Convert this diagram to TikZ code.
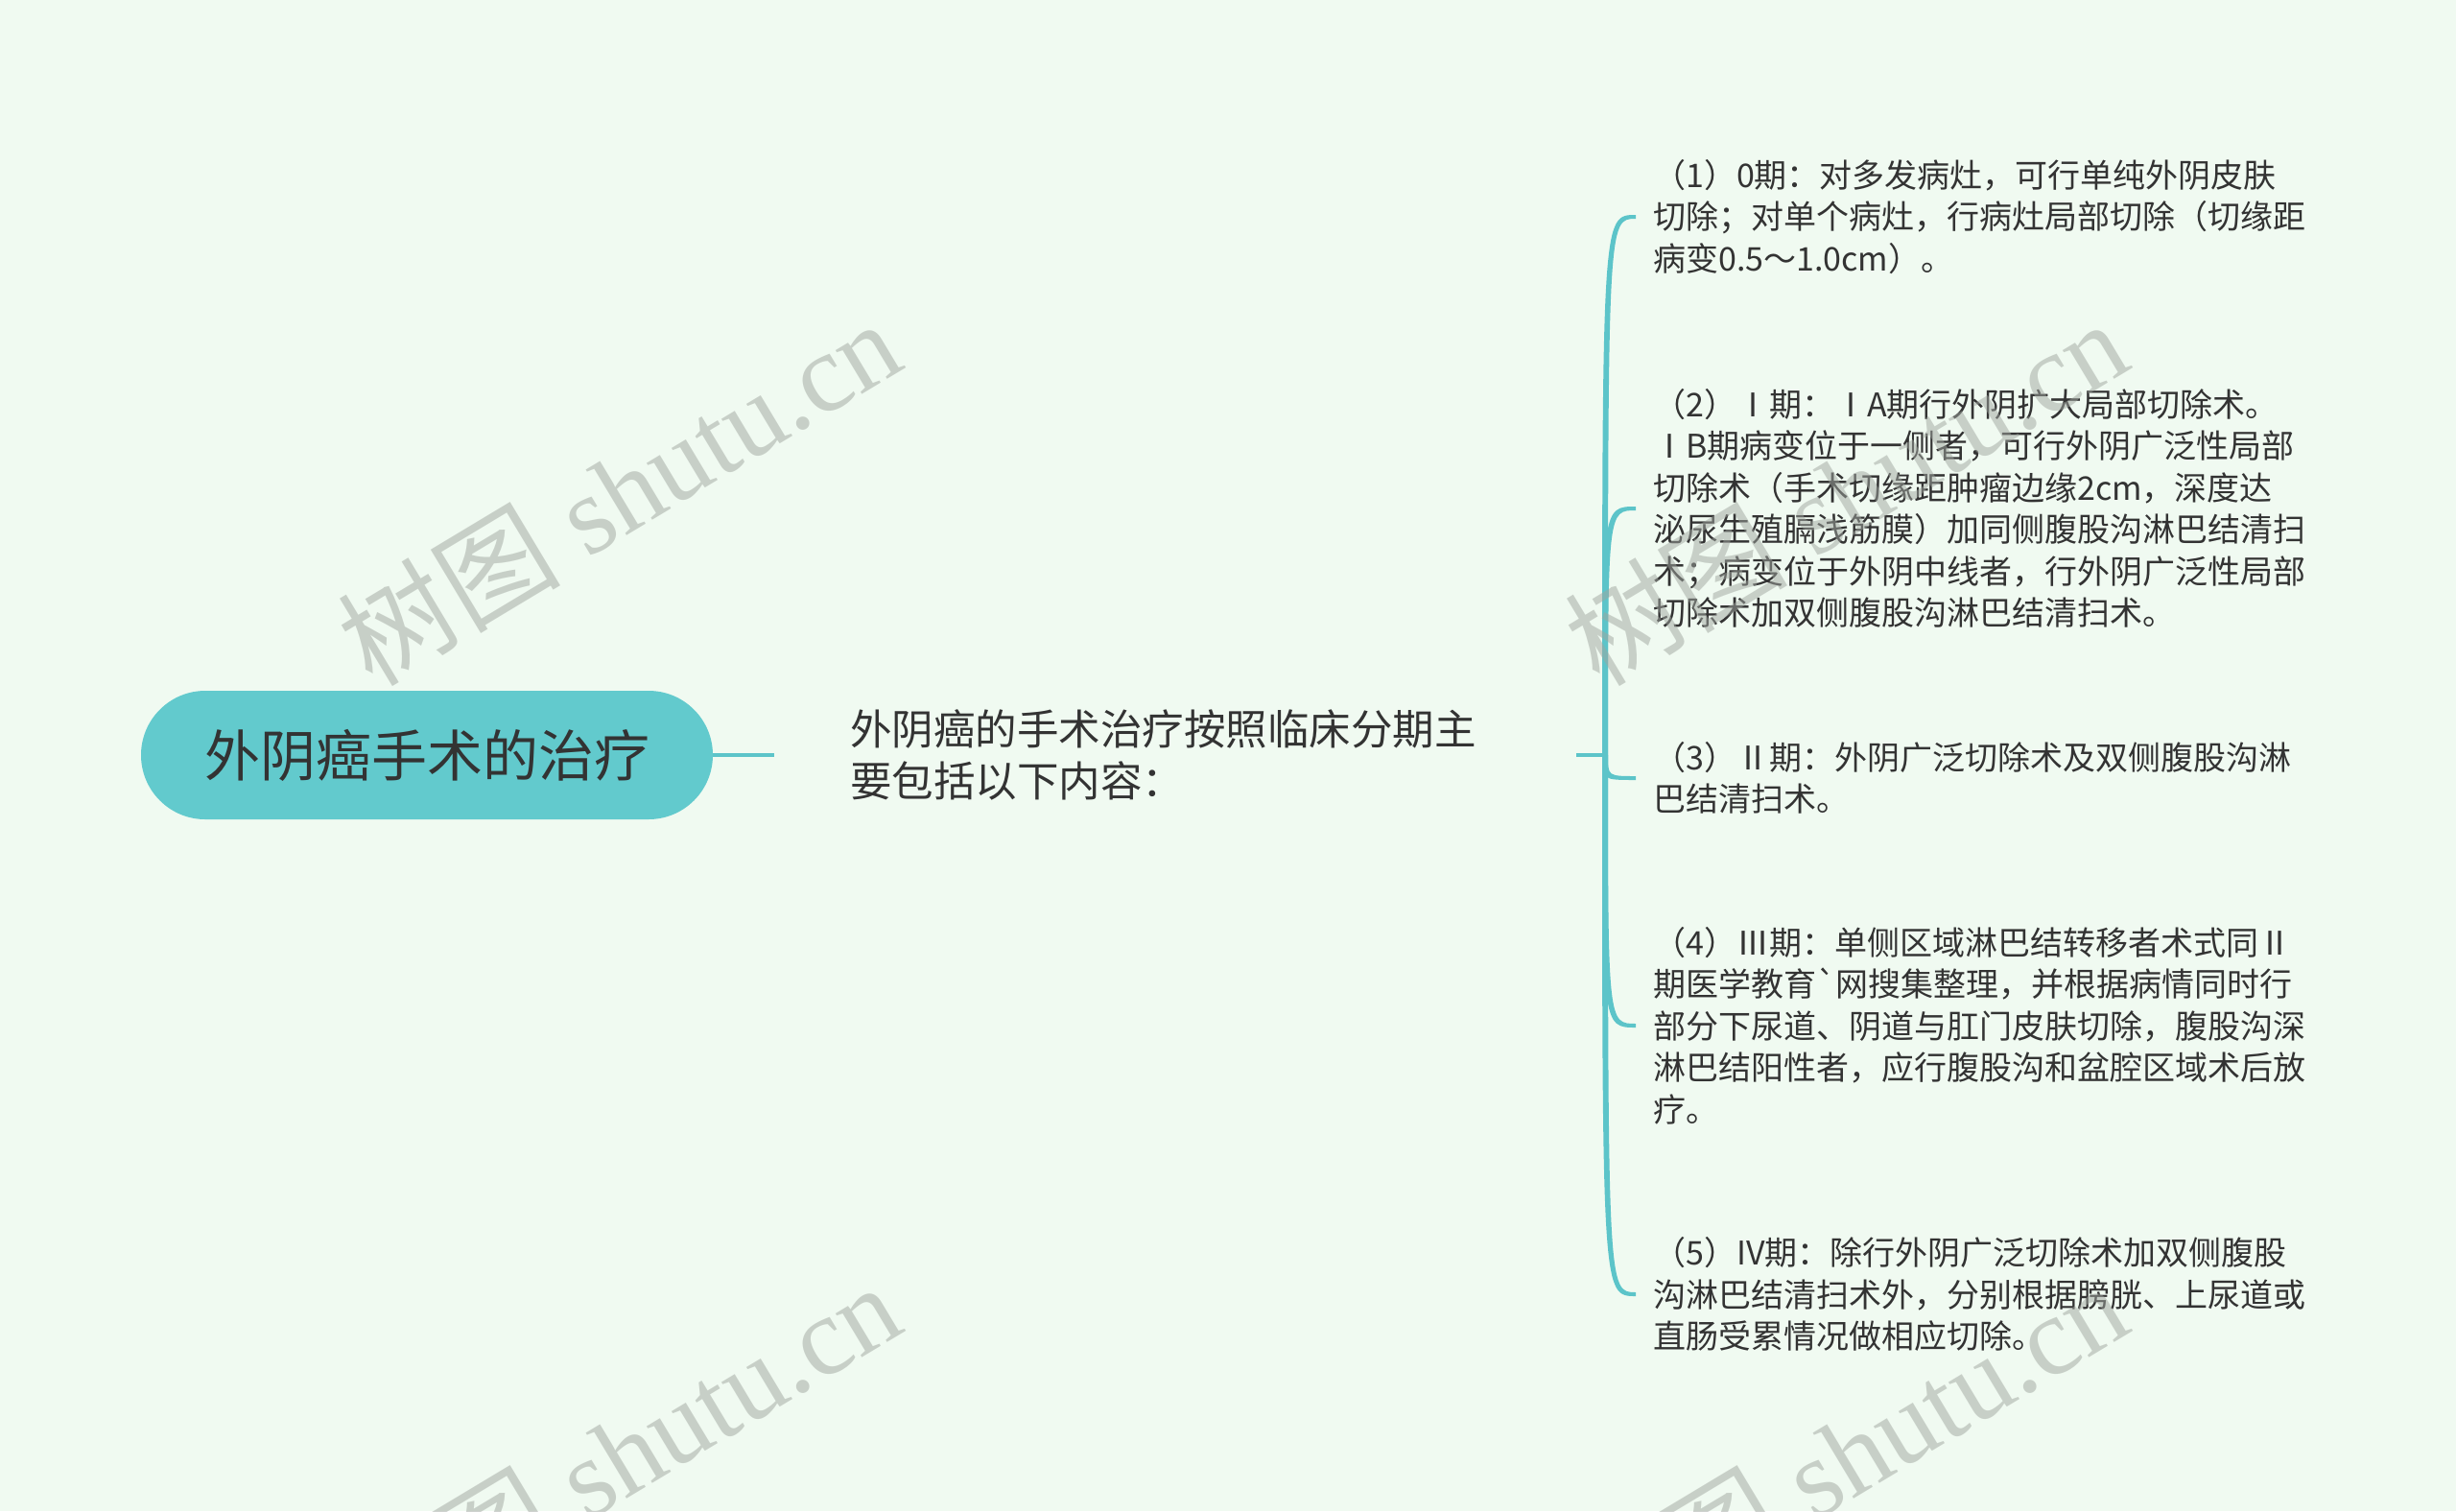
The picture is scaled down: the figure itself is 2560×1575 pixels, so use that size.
\documentclass[tikz,border=0pt]{standalone}
\usepackage{fontspec}
\usetikzlibrary{calc}
\newfontfamily\cjk{Noto Sans CJK SC}
\newfontfamily\wmserif{Liberation Serif}
\definecolor{bgcol}{RGB}{240,250,241}
\definecolor{teal}{RGB}{98,202,205}
\definecolor{linkcol}{RGB}{92,196,201}
\definecolor{txt}{RGB}{51,51,51}
\definecolor{wmcol}{RGB}{160,166,159}
\tikzset{
  rootbox/.style={fill=teal, rounded corners=67pt, minimum width=596pt, minimum height=134pt,
    inner sep=0pt, text=txt, font=\cjk\fontsize{58}{70}\selectfont},
  midbox/.style={anchor=west, text width=678pt, inner xsep=79pt, inner ysep=0pt, align=left,
    text=txt, font=\cjk\fontsize{43.5}{54}\selectfont},
  leafbox/.style={anchor=west, inner xsep=18pt, inner ysep=0pt, align=left,
    text=txt, font=\cjk\fontsize{34}{43.5}\selectfont},
  link/.style={draw=linkcol, line width=4.5pt},
  wm/.style={rotate=31, text=wmcol, text opacity=0.5, inner sep=0pt,
    font=\fontsize{116}{120}\selectfont}
}
\newcommand{\wmtext}{{\cjk 树图}{\wmserif\ shutu.cn}}
\begin{document}
\begin{tikzpicture}[x=1pt,y=-1pt]
\fill[bgcol] (0,0) rectangle (2560,1575);
\useasboundingbox (0,0) rectangle (2560,1575);

\node[rootbox] (root) at (445,787) {外阴癌手术的治疗};
\node[midbox] (mid) at (807,787) {外阴癌的手术治疗按照临床分期主\\要包括以下内容：};
\coordinate (J) at (1673,787);

\node[leafbox] (c1) at (1705,226) {（1）0期：对多发病灶，可行单纯外阴皮肤\\切除；对单个病灶，行病灶局部切除（切缘距\\病变0.5～1.0cm）。};
\node[leafbox] (c2) at (1705,530) {（2）Ⅰ期：ⅠA期行外阴扩大局部切除术。\\ⅠB期病变位于一侧者，可行外阴广泛性局部\\切除术（手术切缘距肿瘤边缘2cm，深度达\\泌尿生殖膈浅筋膜）加同侧腹股沟淋巴结清扫\\术；病变位于外阴中线者，行外阴广泛性局部\\切除术加双侧腹股沟淋巴结清扫术。};
\node[leafbox] (c3) at (1705,811) {（3）Ⅱ期：外阴广泛切除术及双侧腹股沟淋\\巴结清扫术。};
\node[leafbox] (c4) at (1705,1069) {（4）Ⅲ期：单侧区域淋巴结转移者术式同Ⅱ\\期医学教育`网搜集整理，并根据病情同时行\\部分下尿道、阴道与肛门皮肤切除，腹股沟深\\淋巴结阳性者，应行腹股沟和盆腔区域术后放\\疗。};
\node[leafbox] (c5) at (1705,1349) {（5）IV期：除行外阴广泛切除术加双侧腹股\\沟淋巴结清扫术外，分别根据膀胱、上尿道或\\直肠受累情况做相应切除。};

\draw[link] (root.east) -- (mid.west);
\draw[link] (mid.east) -- (J);
% tapered branches: thicker at the junction, thinner at the child
\foreach \c/\a/\b in {c1/-2/2, c2/-2/2, c3/2/-2, c4/2/-2, c5/2/-2}{
  \fill[linkcol] ($(J)+(-3,0)$) .. controls ($(J |- \c.west)+(-3,\a)$) .. ($(\c.west)+(0,\a)$)
     -- ($(\c.west)+(0,\b)$) .. controls ($(J |- \c.west)+(3,\b)$) .. ($(J)+(3,0)$) -- cycle;
}

\node[wm] (wm1) at (645,512) {\wmtext};
\node[wm] (wm2) at (1924,512) {\wmtext};
\node[wm] (wm3) at (645,1516) {\wmtext};
\node[wm] (wm4) at (1924,1516) {\wmtext};
\end{tikzpicture}
\end{document}
